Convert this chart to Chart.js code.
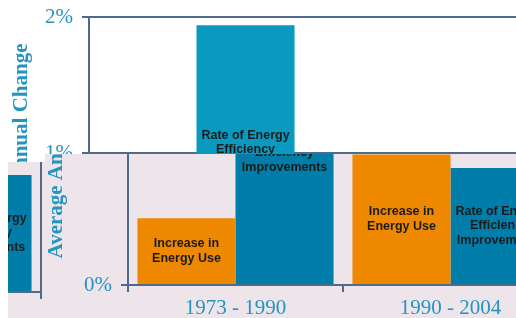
<!DOCTYPE html>
<html><head><meta charset="utf-8">
<script src="https://cdn.jsdelivr.net/npm/chart.js@4"></script>
<style>
html,body{margin:0;padding:0;width:516px;height:318px;overflow:hidden;background:#fff;position:relative}
.panel{position:absolute;overflow:hidden}
.wrap{position:absolute;width:560px;height:318px}
</style></head><body>
<div id="lower" class="panel" style="left:8px;top:0;width:508px;height:318px;background:#ede5e9">
  <div class="wrap" style="left:-8px;top:0"><canvas id="c1"></canvas></div>
</div>
<div id="frag" class="panel" style="left:8px;top:162px;width:37px;height:156px;background:#ede5e9">
  <div class="wrap" style="left:-525px;top:-155px"><canvas id="c3"></canvas></div>
</div>
<div id="topp" class="panel" style="left:0;top:0;width:516px;height:162px;background:#fff;clip-path:polygon(0 0,516px 0,516px 154px,45px 154px,45px 162px,0 162px)">
  <div class="wrap" style="left:-39px;top:4px"><canvas id="c2"></canvas></div>
</div>
<script>
// ---- data ----
const categories = ['1973 - 1990', '1990 - 2004'];
const seriesNames = ['Increase in Energy Use', 'Rate of Energy Efficiency Improvements'];
const energyUse = [0.49, 0.96];
const efficiency = [1.94, 0.86];
const barLabels = [['Increase in', 'Energy Use'], ['Rate of Energy', 'Efficiency', 'Improvements']];
const yTitle = 'Average Annual Change';
const yMin = 0, yMax = 2, yStep = 1;

// ---- styles ----
const AX = '#4d6b8c';
const TEAL = '#2594c2';
const SERIF = '"Liberation Serif", "Times New Roman", serif';

const barTextPlugin = {
  id: 'barText',
  afterDatasetsDraw(chart, args, opts) {
    const ctx = chart.ctx;
    ctx.save();
    ctx.font = 'bold 12.5px "Liberation Sans", Arial, sans-serif';
    ctx.fillStyle = '#1b1b1b';
    ctx.textAlign = 'center';
    ctx.textBaseline = 'middle';
    chart.data.datasets.forEach((ds, i) => {
      const lines = barLabels[i];
      chart.getDatasetMeta(i).data.forEach(el => {
        const yc = (el.y + el.base) / 2 + (opts.dy || 0);
        lines.forEach((t, k) => ctx.fillText(t, el.x, yc + (k - (lines.length - 1) / 2) * 14.5));
      });
    });
    ctx.restore();
  }
};

function noPad(s) { s.paddingTop = 0; s.paddingBottom = 0; s.paddingLeft = 0; s.paddingRight = 0; }

function build(id, v) {
  return new Chart(document.getElementById(id), {
    type: 'bar',
    data: {
      labels: categories,
      datasets: [
        { label: seriesNames[0], data: energyUse, backgroundColor: v.orange, borderWidth: 0 },
        { label: seriesNames[1], data: efficiency, backgroundColor: v.blue, borderWidth: 0 }
      ]
    },
    options: {
      responsive: true, maintainAspectRatio: false, animation: false,
      layout: { padding: { left: 38, top: 13, right: 2, bottom: 0 } },
      datasets: { bar: { barPercentage: 1, categoryPercentage: 0.912 } },
      plugins: { legend: { display: false }, tooltip: { enabled: false }, barText: { dy: v.dy } },
      scales: {
        x: {
          grid: { display: true, drawOnChartArea: false, tickLength: 7, color: AX, lineWidth: 2, offset: true },
          border: { color: AX, width: 2 },
          ticks: { font: { family: SERIF, size: 21 }, color: TEAL, padding: 4 },
          afterFit: s => { s.height = 33; noPad(s); }
        },
        y: {
          min: yMin, max: yMax,
          ticks: { stepSize: yStep, font: { family: SERIF, size: 21 }, color: TEAL, padding: 9,
                   callback: val => v.showTicks.includes(val) ? val + '%' : '' },
          grid: { color: AX, lineWidth: 2, tickLength: 7 },
          border: { color: AX, width: 2 },
          title: { display: true, text: yTitle, color: TEAL, font: { family: SERIF, size: 21, weight: 'bold' }, padding: { top: v.titlePad, bottom: 0 } },
          afterFit: s => { s.width = 90; noPad(s); }
        },
        yR: {
          position: 'right', display: v.rightBorder, min: yMin, max: yMax,
          ticks: { display: false }, grid: { display: false, drawOnChartArea: false },
          border: { display: true, color: AX, width: 2 },
          afterFit: s => { s.width = 0; noPad(s); }
        }
      }
    },
    plugins: [barTextPlugin]
  });
}

build('c1', { orange: '#ee8800', blue: '#007ea9', dy: 0, showTicks: [0], titlePad: 6, rightBorder: false });
build('c3', { orange: '#ee8800', blue: '#007ea9', dy: 0, showTicks: [], titlePad: 6, rightBorder: true });
build('c2', { orange: '#ee8800', blue: '#0a9ac0', dy: -7, showTicks: [1, 2], titlePad: 10, rightBorder: false });
</script>
</body></html>
